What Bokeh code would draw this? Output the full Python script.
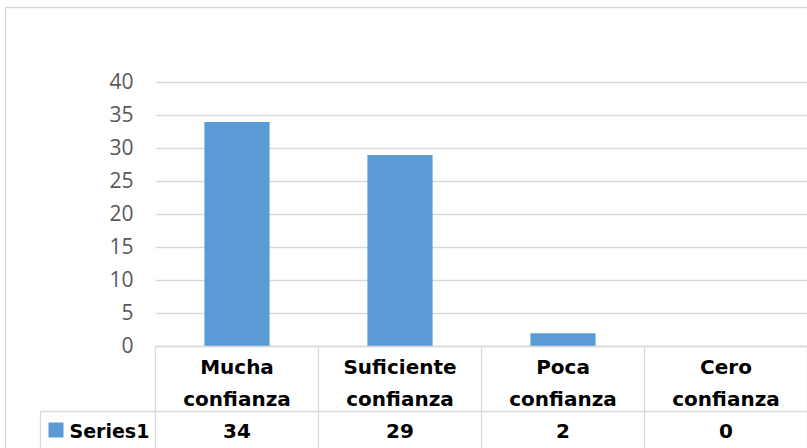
from bokeh.plotting import figure
from bokeh.models import Range1d
from bokeh.core.properties import value
from bokeh.embed import file_html
from bokeh.resources import INLINE

# ---- data ----
categories = ["Mucha confianza", "Suficiente confianza", "Poca confianza", "Cero confianza"]
values = [34, 29, 2, 0]
series_name = "Series1"
y_ticks = [0, 5, 10, 15, 20, 25, 30, 35, 40]

# ---- layout (pixels) ----
W, H = 807, 448
plot_left = 155          # left edge of plot area
cat_w = 163              # width of one category column
y0_px = 346              # pixel row of value 0
px_per_unit = 6.6        # pixels per value unit
row_px = 411             # line between category row and value row
hdr_left = 40            # left edge of the row-header cell
BAR = "#5B9BD5"
GRID = "#D9D9D9"

n = len(categories)
x_idx = list(range(n))
x_start = -0.5 - plot_left / cat_w
x_end = n - 0.5 + (W - plot_left - cat_w * n) / cat_w

p = figure(width=W, height=H, output_backend="svg", toolbar_location=None,
           x_range=Range1d(x_start, x_end),
           y_range=Range1d(-(H - y0_px) / px_per_unit, y0_px / px_per_unit),
           x_axis_type=None, y_axis_type=None,
           min_border=0, min_border_left=0, min_border_right=0,
           min_border_top=0, min_border_bottom=0)
p.outline_line_color = None
p.background_fill_color = "white"
p.border_fill_color = "white"
p.extra_x_ranges = {"px": Range1d(0, W)}
p.extra_y_ranges = {"px": Range1d(H, 0)}

# outer chart border
p.quad(left=[5], right=[W + 20], top=[7], bottom=[H + 20], fill_color=None,
       line_color=GRID, line_width=1.3, x_range_name="px", y_range_name="px")

# gridlines
p.segment(x0=[-0.5] * len(y_ticks), x1=[n - 0.5] * len(y_ticks), y0=y_ticks, y1=y_ticks,
          line_color=GRID, line_width=1.3)

# tick labels
p.text(x=[133] * len(y_ticks), y=y_ticks, text=[str(t) for t in y_ticks],
       text_align="right", text_baseline="middle", y_offset=-2,
       text_font=value("Open Sans"), text_font_size="21px", text_color="#595959",
       x_range_name="px")

# bars
p.vbar(x=x_idx, top=values, bottom=0, width=0.4, fill_color=BAR, line_color=None)

# data table lines
xs_v = [i - 0.5 for i in range(n + 1)]
p.segment(x0=xs_v, x1=xs_v, y0=[y0_px] * len(xs_v), y1=[H + 20] * len(xs_v),
          line_color=GRID, line_width=1.3, y_range_name="px")
p.segment(x0=[hdr_left, plot_left], x1=[W + 20, W + 20], y0=[row_px, y0_px], y1=[row_px, y0_px],
          line_color=GRID, line_width=1.3, x_range_name="px", y_range_name="px")
p.segment(x0=[hdr_left], x1=[hdr_left], y0=[row_px], y1=[H + 20],
          line_color=GRID, line_width=1.3, x_range_name="px", y_range_name="px")

# category labels (two lines)
line1 = [c.split(" ", 1)[0] for c in categories]
line2 = [c.split(" ", 1)[1] for c in categories]
lbl = dict(text_align="center", text_baseline="middle", text_font=value("DejaVu Sans"),
           text_font_style="bold", text_font_size="20px", text_color="black")
p.text(x=x_idx, y=[366.5] * n, text=line1, y_range_name="px", **lbl)
p.text(x=x_idx, y=[398] * n, text=line2, y_range_name="px", **lbl)

# value row
p.text(x=x_idx, y=[430.5] * n, text=[str(v) for v in values], y_range_name="px", **lbl)

# legend key + series name
p.quad(left=[48], right=[63], top=[422], bottom=[437], fill_color=BAR, line_color=None,
       x_range_name="px", y_range_name="px")
lbl_left = dict(lbl, text_align="left", text_font_size="19px")
p.text(x=[69], y=[430.5], text=[series_name], x_range_name="px", y_range_name="px", **lbl_left)

open("out.html", "w").write(file_html(p, INLINE))
